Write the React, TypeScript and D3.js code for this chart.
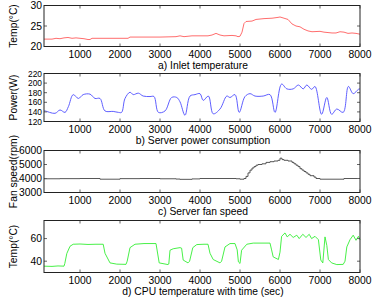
import React from "react";
import * as d3 from "d3";

// time axis (sec)
const xTicks = [1000, 2000, 3000, 4000, 5000, 6000, 7000, 8000];

// a) inlet temperature
const inletT = [100, 300, 400, 500, 600, 700, 800, 900, 1000, 1100, 1200, 1250, 1300, 1500, 2000, 2200, 2250, 2600, 3000, 3400, 3500, 3600, 3800, 4200, 4300, 4400, 4500, 4600, 4800, 4900, 4950, 5000, 5050, 5100, 5150, 5300, 5400, 5600, 5800, 5950, 6000, 6100, 6200, 6300, 6400, 6500, 6600, 6700, 6800, 7000, 7100, 7300, 7400, 7500, 7600, 7700, 7800, 7900, 8000];
const inletV = [21.8, 21.8, 22, 21.9, 22.1, 22.2, 22, 22.1, 22, 21.9, 21.7, 21.7, 22, 22, 22, 22, 22.3, 22.3, 22.3, 22.4, 22.6, 22.4, 22.6, 22.6, 22.8, 23.2, 22.8, 22.6, 22.7, 22.6, 22.4, 22.5, 23.5, 25.6, 26.1, 26.2, 26.6, 26.8, 26.9, 27.1, 27.2, 26.9, 26.6, 25.5, 25, 24.8, 24.2, 23.8, 23.6, 23.7, 23.5, 23.3, 23.3, 23.6, 23.5, 23.2, 23.3, 23.2, 23];

// b) server power
const powerT = [100, 125, 375, 500, 625, 710, 830, 960, 1080, 1250, 1375, 1500, 1625, 1830, 1960, 2040, 2125, 2250, 2330, 2460, 2580, 2750, 2850, 2960, 3125, 3290, 3420, 3500, 3625, 3750, 3875, 4000, 4080, 4210, 4330, 4500, 4670, 4750, 4875, 4980, 5125, 5250, 5375, 5580, 5750, 5875, 6040, 6170, 6330, 6460, 6580, 6670, 6790, 6875, 7040, 7170, 7290, 7420, 7580, 7710, 7830, 7960, 8000];
const powerV = [142, 142, 137, 144, 139, 151, 176, 168, 176, 177, 168, 168, 142, 141, 139, 139, 168, 181, 176, 179, 173, 172, 172, 139, 142, 170, 170, 161, 133, 173, 176, 178, 164, 173, 136, 146, 173, 170, 176, 139, 172, 178, 173, 173, 176, 139, 198, 188, 188, 196, 188, 196, 187, 193, 135, 170, 135, 146, 139, 193, 178, 187, 188];

// c) fan speed
const fanT = [100, 500, 1000, 1500, 2000, 2500, 3000, 3400, 3500, 3800, 4000, 4500, 4900, 5000, 5100, 5150, 5200, 5250, 5300, 5350, 5400, 5450, 5550, 5650, 5750, 5850, 5950, 6000, 6050, 6100, 6200, 6300, 6350, 6400, 6450, 6500, 6550, 6600, 6650, 6700, 6750, 6850, 6900, 7000, 7200, 7600, 8000];
const fanV = [3980, 3990, 4000, 3950, 3990, 4000, 3980, 3960, 3940, 3970, 4000, 4000, 3980, 3950, 4000, 4150, 4400, 4600, 4750, 4850, 4950, 5000, 5050, 5150, 5200, 5250, 5300, 5450, 5350, 5300, 5250, 5150, 5050, 4950, 4850, 4700, 4600, 4500, 4400, 4300, 4200, 4100, 4000, 3950, 3950, 4000, 4000];

// d) CPU temperature
const cpuT = [100, 300, 450, 600, 620, 670, 750, 830, 1000, 1200, 1400, 1580, 1625, 1750, 1920, 2150, 2180, 2250, 2375, 2600, 2900, 2980, 3200, 3220, 3250, 3330, 3500, 3540, 3580, 3700, 3740, 3820, 3920, 4100, 4200, 4250, 4330, 4500, 4540, 4625, 4750, 4875, 4930, 4960, 5000, 5040, 5170, 5330, 5550, 5750, 5790, 5830, 5960, 6000, 6040, 6125, 6180, 6250, 6330, 6420, 6480, 6570, 6650, 6730, 6790, 6875, 6960, 7020, 7070, 7125, 7170, 7210, 7290, 7420, 7580, 7625, 7670, 7750, 7830, 7900, 7960, 8000];
const cpuV = [35.6, 35.4, 35.8, 35.6, 38, 46.8, 53.2, 55, 55.2, 54.8, 55, 55, 47, 38.5, 37.4, 37.2, 40, 52, 55, 55.6, 55.6, 38.5, 37, 37.5, 49.7, 51, 52, 51.5, 41, 38.5, 40, 52, 54.7, 55, 55, 47, 41.5, 38.5, 40, 52.6, 55.6, 55.6, 50, 39.4, 38, 49.7, 55, 56, 56, 56, 50, 43.8, 41.5, 48, 62, 65, 61.5, 63.8, 61, 63, 60, 63.8, 61, 63.8, 60, 62, 59, 41, 38.5, 61.5, 54, 41.5, 38.5, 37, 37.2, 40, 52.6, 59, 63, 58.5, 62, 59];

const yTicks1 = [20, 25, 30];
const yTicks2 = [120, 140, 160, 180, 200, 220];
const yTicks3 = [3000, 4000, 5000, 6000];
const yTicks4 = [40, 60];

const W = 374;
const H = 300;
const left = 44;
const right = 360;
const font = "'Liberation Sans', Arial, sans-serif";

const x = d3.scaleLinear().domain([100, 8000]).range([left, right]);

function Panel({ top, bottom, domain, ticks, tickSize, xs, ys, color, curve, ylabel, caption }) {
  const y = d3.scaleLinear().domain(domain).range([bottom, top]);
  const line = d3
    .line()
    .x((d) => x(d[0]))
    .y((d) => y(d[1]))
    .curve(curve);
  const pts = xs.map((t, i) => [t, ys[i]]);
  const tl = 3;
  return (
    <g>
      <path d={line(pts)} fill="none" stroke={color} strokeWidth={0.9} />
      {xTicks.map((t) => (
        <g key={"x" + t}>
          <line x1={x(t)} x2={x(t)} y1={bottom} y2={bottom - tl} stroke="#666" />
          <line x1={x(t)} x2={x(t)} y1={top} y2={top + tl} stroke="#666" />
          <text x={x(t)} y={bottom + 11} textAnchor="middle" fontSize={10.3}>
            {t}
          </text>
        </g>
      ))}
      {ticks.map((v) => (
        <g key={"y" + v}>
          <line x1={left} x2={left + tl} y1={y(v)} y2={y(v)} stroke="#666" />
          <line x1={right} x2={right - tl} y1={y(v)} y2={y(v)} stroke="#666" />
          <text x={left - 2} y={y(v) + tickSize * 0.36} textAnchor="end" fontSize={tickSize}>
            {v}
          </text>
        </g>
      ))}
      <rect x={left} y={top} width={right - left} height={bottom - top} fill="none" stroke="#222" strokeWidth={1} />
      <text
        transform={`translate(${17},${(top + bottom) / 2}) rotate(-90)`}
        textAnchor="middle"
        fontSize={10.3}
      >
        {ylabel}
      </text>
      <text x={(left + right) / 2 + 1} y={bottom + 22.5} textAnchor="middle" fontSize={10.3}>
        {caption}
      </text>
    </g>
  );
}

export default function App() {
  return (
    <svg
      width={W}
      height={H}
      style={{ position: "absolute", left: 0, top: 0, background: "#fff", fontFamily: font }}
    >
      <Panel top={5.5} bottom={46.5} domain={[20, 30]} ticks={yTicks1} tickSize={10.3} xs={inletT} ys={inletV}
        color="#ff5c5c" curve={d3.curveLinear} ylabel="Temp(°C)" caption="a) Inlet temperature" />
      <Panel top={73.5} bottom={121.5} domain={[120, 220]} ticks={yTicks2} tickSize={8.4} xs={powerT} ys={powerV}
        color="#4d4dff" curve={d3.curveCatmullRom.alpha(0.5)} ylabel="Power(W)" caption="b) Server power consumption" />
      <Panel top={150.5} bottom={192.5} domain={[3000, 6000]} ticks={yTicks3} tickSize={10.3} xs={fanT} ys={fanV}
        color="#444" curve={d3.curveStepAfter} ylabel="Fan speed(rpm)" caption="c) Server fan speed" />
      <Panel top={220.5} bottom={272.5} domain={[30, 76]} ticks={yTicks4} tickSize={10.3} xs={cpuT} ys={cpuV}
        color="#33ee33" curve={d3.curveLinear} ylabel="Temp(°C)" caption="d) CPU temperature with time (sec)" />
    </svg>
  );
}
